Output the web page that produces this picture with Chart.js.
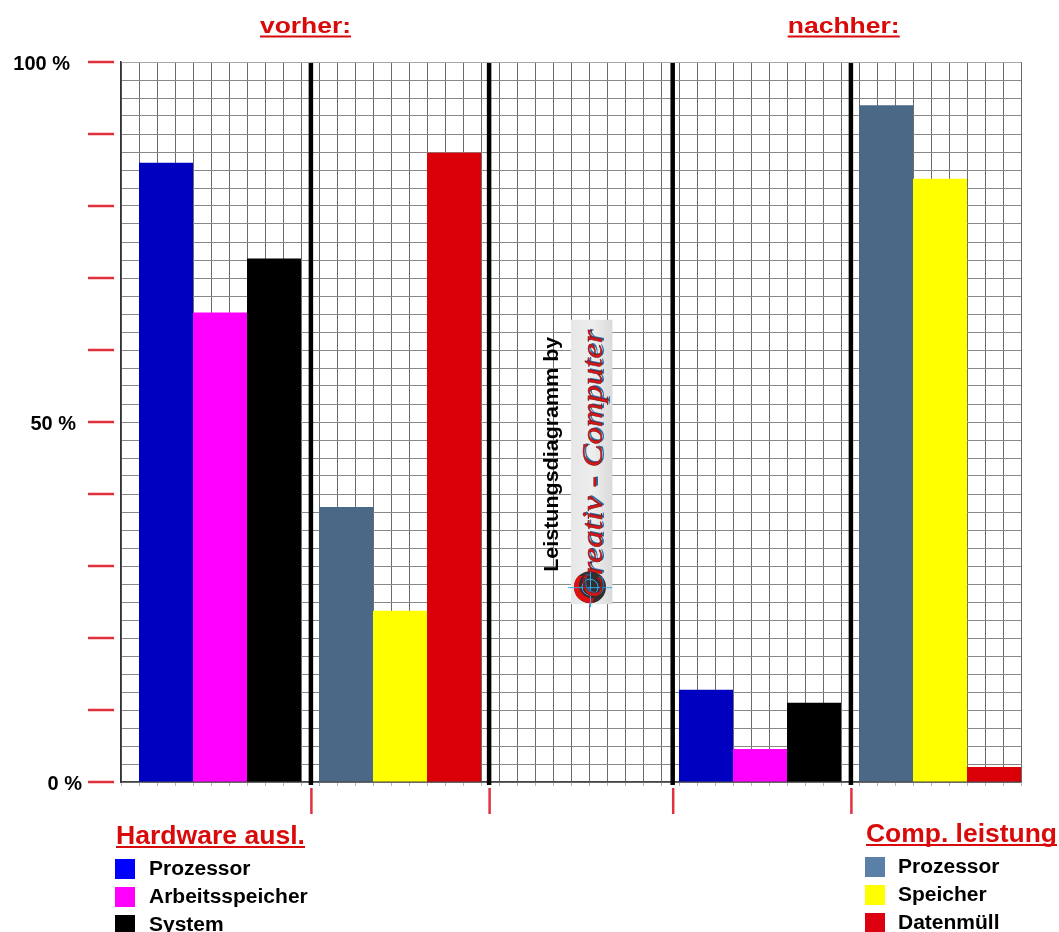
<!DOCTYPE html>
<html>
<head>
<meta charset="utf-8">
<title>Leistungsdiagramm</title>
<script src="https://cdn.jsdelivr.net/npm/chart.js@4.4.1/dist/chart.umd.min.js"></script>
<style>
  html, body { margin: 0; padding: 0; background: #ffffff; }
  #wrap { width: 1059px; height: 932px; position: relative; }
</style>
</head>
<body>
<div id="wrap"><canvas id="chart" width="1059" height="932"></canvas></div>
<script>
// ---- data ----
const phaseTitles = ['vorher:', 'nachher:'];

const hardwareTitle = 'Hardware ausl.';
const hardwareLabels = ['Prozessor', 'Arbeitsspeicher', 'System'];
const hardwareBefore = [86.0, 65.2, 72.7];
const hardwareAfter = [12.8, 4.6, 11.0];

const compTitle = 'Comp. leistung';
const compLabels = ['Prozessor', 'Speicher', 'Datenmüll'];
const compBefore = [38.2, 23.8, 87.4];
const compAfter = [94.0, 83.8, 2.1];

const yTickValues = [0, 50, 100];
const yTickLabels = ['0 %', '50 %', '100 %'];

const creditText = 'Leistungsdiagramm by';
const logoText = 'Creativ - Computer';

// ---- styles ----
const hardwareBarColors = ['#0000c0', '#ff00ff', '#000000'];
const hardwareKeyColors = ['#0000ff', '#ff00ff', '#000000'];
const compBarColors = ['#4b6886', '#ffff00', '#db0008'];
const compKeyColors = ['#5a80a8', '#ffff00', '#dc0010'];
const RED = '#d80a0a';
const TICK_RED = '#e0323e';
const FONT = '"Liberation Sans", Arial, sans-serif';

// ---- layout (in grid cells: 50 columns, sections of 10) ----
const CELLS = 50;
const SECTION = 10;
const BAR_CELLS = 3;
const dividerCells = [10.55, 20.45, 30.65, 40.55];
// which section each phase occupies
const hardwareSections = [0, 3];
const compSections = [1, 4];

function barCenter(section, i) {
  return section * SECTION + 1 + BAR_CELLS * i + BAR_CELLS / 2;
}

function makeDatasets(labels, before, after, sections, colors) {
  return labels.map((label, i) => ({
    label: label,
    data: [
      { x: barCenter(sections[0], i), y: before[i] },
      { x: barCenter(sections[1], i), y: after[i] }
    ],
    backgroundColor: colors[i],
    borderWidth: 0
  }));
}

const datasets = [
  ...makeDatasets(hardwareLabels, hardwareBefore, hardwareAfter, hardwareSections, hardwareBarColors),
  ...makeDatasets(compLabels, compBefore, compAfter, compSections, compBarColors)
];

// draws text horizontally stretched to a given width
function fitText(ctx, text, x, y, font, width, align) {
  ctx.save();
  ctx.font = font;
  const w = ctx.measureText(text).width;
  const sx = width ? width / w : 1;
  ctx.translate(x, y);
  ctx.scale(sx, 1);
  ctx.textAlign = align || 'left';
  ctx.textBaseline = 'alphabetic';
  ctx.fillText(text, 0, 0);
  ctx.restore();
}

function drawKey(ctx, title, labels, colors, box) {
  ctx.fillStyle = RED;
  fitText(ctx, title, box.x, box.titleBase, 'bold 25px ' + FONT, box.titleWidth);
  ctx.fillRect(box.x, box.titleBase + 2, box.titleWidth, 2);
  labels.forEach((label, i) => {
    ctx.fillStyle = colors[i];
    ctx.fillRect(box.x - 1, box.swatchTop + i * 28, 20, 20);
    ctx.fillStyle = '#000000';
    ctx.save();
    ctx.font = 'bold 20px ' + FONT;
    const w = ctx.measureText(label).width;
    ctx.restore();
    fitText(ctx, label, box.x + box.textOffset, box.swatchTop + 16 + i * 28, 'bold 20px ' + FONT, w * 1.05);
  });
}

const decorations = {
  id: 'decorations',
  afterDatasetsDraw(chart) {
    const ctx = chart.ctx;
    const xs = chart.scales.x, ys = chart.scales.y;
    const area = chart.chartArea;

    // credit strip in the empty middle section
    const sx0 = xs.getPixelForValue(25), sx1 = xs.getPixelForValue(27.3);
    const sy0 = ys.getPixelForValue(64.2), sy1 = ys.getPixelForValue(24.7);
    ctx.save();
    const g = ctx.createLinearGradient(sx0, 0, sx1, 0);
    g.addColorStop(0, '#e6e6e6');
    g.addColorStop(0.5, '#eeeeee');
    g.addColorStop(1, '#dadada');
    ctx.fillStyle = g;
    ctx.fillRect(sx0, sy0, sx1 - sx0, sy1 - sy0);

    // round emblem
    const cx = sx0 + 19, cy = sy1 - 17;
    ctx.beginPath();
    ctx.arc(cx, cy, 16, 0, Math.PI * 2);
    ctx.fillStyle = '#303030';
    ctx.fill();
    ctx.beginPath();
    ctx.arc(cx, cy, 16, Math.PI * 0.45, Math.PI * 1.25);
    ctx.arc(cx + 2, cy - 2, 13, Math.PI * 1.25, Math.PI * 0.45, true);
    ctx.closePath();
    ctx.fillStyle = '#e01010';
    ctx.fill();
    ctx.strokeStyle = '#3aa8e8';
    ctx.lineWidth = 1;
    ctx.beginPath();
    ctx.arc(cx, cy, 8, 0, Math.PI * 2);
    ctx.moveTo(cx - 22, cy + 0.5); ctx.lineTo(cx + 22, cy + 0.5);
    ctx.moveTo(cx + 0.5, cy - 18); ctx.lineTo(cx + 0.5, cy + 20);
    ctx.stroke();

    // script lettering, reading bottom to top
    ctx.translate(sx0 + 31, sy1 - 6);
    ctx.rotate(-Math.PI / 2);
    ctx.font = 'italic 30px "Liberation Serif", serif';
    const lw = ctx.measureText(logoText).width;
    ctx.scale((sy1 - sy0 - 16) / lw, 1);
    ctx.fillStyle = '#2a6ea8';
    ctx.fillText(logoText, 0.8, 1.6);
    ctx.fillStyle = '#d41818';
    ctx.fillText(logoText, 0, 0);
    ctx.strokeStyle = '#7a1010';
    ctx.lineWidth = 0.5;
    ctx.strokeText(logoText, 0, 0);
    ctx.restore();

    // rotated credit line
    ctx.save();
    ctx.translate(xs.getPixelForValue(24.3), ys.getPixelForValue(29.2));
    ctx.rotate(-Math.PI / 2);
    ctx.fillStyle = '#000000';
    fitText(ctx, creditText, 0, 0, 'bold 20px ' + FONT, 235);
    ctx.restore();

    // thick section dividers
    ctx.save();
    ctx.strokeStyle = '#000000';
    ctx.lineWidth = 4.5;
    dividerCells.forEach(c => {
      const px = xs.getPixelForValue(c);
      ctx.beginPath();
      ctx.moveTo(px, area.top + 1);
      ctx.lineTo(px, area.bottom + 3);
      ctx.stroke();
    });
    ctx.restore();
  },
  afterDraw(chart) {
    const ctx = chart.ctx;
    const xs = chart.scales.x, ys = chart.scales.y;
    const area = chart.chartArea;
    ctx.save();

    // small ticks under the base line
    ctx.strokeStyle = '#b8b8b8';
    ctx.lineWidth = 1;
    for (let c = 0; c <= CELLS; c++) {
      const px = Math.round(xs.getPixelForValue(c)) + 0.5;
      ctx.beginPath();
      ctx.moveTo(px, area.bottom + 1);
      ctx.lineTo(px, area.bottom + 4);
      ctx.stroke();
    }

    // red percent ticks every 10 %
    ctx.strokeStyle = TICK_RED;
    ctx.lineWidth = 2.5;
    for (let v = 0; v <= 100; v += 10) {
      const py = ys.getPixelForValue(v);
      ctx.beginPath();
      ctx.moveTo(area.left - 33, py);
      ctx.lineTo(area.left - 7, py);
      ctx.stroke();
    }
    // red ticks below the dividers
    dividerCells.forEach(c => {
      const px = xs.getPixelForValue(c) + 0.5;
      ctx.beginPath();
      ctx.moveTo(px, area.bottom + 6);
      ctx.lineTo(px, area.bottom + 32);
      ctx.stroke();
    });

    // percentage labels
    ctx.fillStyle = '#000000';
    yTickValues.forEach((v, i) => {
      const py = ys.getPixelForValue(v);
      fitText(ctx, yTickLabels[i], area.left - 39 - 0.12 * v, py + 7.5, 'bold 20px ' + FONT, 0, 'right');
    });

    // phase headings with underline
    const centers = [xs.getPixelForValue(10.25), xs.getPixelForValue(40.15)];
    phaseTitles.forEach((t, i) => {
      const w = i === 0 ? 91 : 112;
      ctx.fillStyle = RED;
      fitText(ctx, t, centers[i], 33, 'bold 22px ' + FONT, w, 'center');
      ctx.fillRect(centers[i] - w / 2, 35.5, w, 2);
    });

    // keys
    drawKey(ctx, hardwareTitle, hardwareLabels, hardwareKeyColors,
      { x: 116, titleBase: 844, titleWidth: 189, swatchTop: 859, textOffset: 33 });
    drawKey(ctx, compTitle, compLabels, compKeyColors,
      { x: 866, titleBase: 842, titleWidth: 191, swatchTop: 857, textOffset: 32 });

    ctx.restore();
  }
};

new Chart(document.getElementById('chart'), {
  type: 'bar',
  data: { datasets: datasets },
  options: {
    responsive: false,
    animation: false,
    events: [],
    layout: { padding: { left: 121, right: 38, top: 62, bottom: 150 } },
    datasets: {
      bar: {
        grouped: false,
        categoryPercentage: 1,
        // the ruler is one grid cell wide; each bar spans three cells
        barPercentage: BAR_CELLS
      }
    },
    scales: {
      x: {
        type: 'linear',
        offset: false,
        min: 0,
        max: CELLS,
        ticks: { display: false, stepSize: 1, autoSkip: false },
        grid: { offset: false, color: '#6a6a6a', lineWidth: 1, drawTicks: false },
        border: { color: '#444444', width: 1.5 }
      },
      y: {
        min: 0,
        max: 100,
        ticks: { display: false, stepSize: 2.5, autoSkip: false },
        grid: {
          color: ctx => (ctx.tick && ctx.tick.value === 100) ? '#a8a8a8' : '#888888',
          lineWidth: 1,
          drawTicks: false
        },
        border: { color: '#333333', width: 1.5 }
      }
    },
    plugins: {
      legend: { display: false },
      tooltip: { enabled: false },
      title: { display: false }
    }
  },
  plugins: [decorations]
});
</script>
</body>
</html>
